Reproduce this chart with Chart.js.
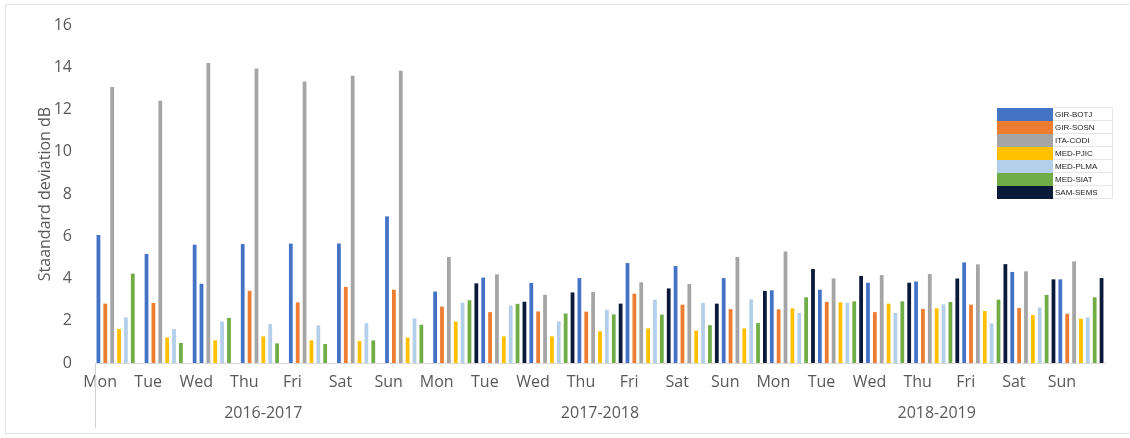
<!DOCTYPE html>
<html>
<head>
    <title>Standard deviation by weekday</title>
    <script src="https://cdn.jsdelivr.net/npm/chart.js"></script>
    <style>
        body { margin: 0; background: #fff; }
        #wrap { position: relative; width: 1130px; height: 438px; }
        #frame { position: absolute; left: 5px; top: 4px; width: 1130px; height: 430px; border: 1px solid #e3e3e3; box-sizing: border-box; }
        #legend { position: absolute; left: 997px; top: 107px; border-collapse: collapse; font: 8px "Liberation Sans", sans-serif; color: #222; }
        #legend td { height: 12px; padding: 0; }
        #legend td.sw { width: 56px; }
        #legend td.tx { width: 57px; padding-left: 2px; border: 1px solid #e6e6e6; border-left: none; }
    </style>
</head>
<body>
    <div id="wrap">
        <div id="frame"></div>
        <canvas id="sdChart" width="1130" height="438"></canvas>
        <table id="legend"></table>
    </div>
    <script>
        const days = ['Mon', 'Tue', 'Wed', 'Thu', 'Fri', 'Sat', 'Sun'];
        const years = ['2016-2017', '2017-2018', '2018-2019'];
        const labels = [...days, ...days, ...days];
        // year label sits under the middle day (Thu) of each block of seven
        const yearLabels = labels.map((d, i) => i % 7 === 3 ? years[Math.floor(i / 7)] : '');

        const girBotj = [6.06, 5.16, 5.6, 5.63, 5.65, 5.66, 6.94, 3.38, 4.04, 3.79, 4.02, 4.73, 4.59, 4.02, 3.44, 3.47, 3.8, 3.86, 4.76, 4.31, 3.96];
        const girSosn = [2.81, 2.84, 3.75, 3.42, 2.87, 3.6, 3.47, 2.67, 2.41, 2.44, 2.43, 3.28, 2.76, 2.55, 2.54, 2.89, 2.41, 2.56, 2.76, 2.6, 2.33];
        const itaCodi = [13.06, 12.41, 14.2, 13.94, 13.33, 13.6, 13.83, 5.02, 4.2, 3.23, 3.36, 3.82, 3.74, 5.02, 5.28, 4.0, 4.16, 4.21, 4.67, 4.34, 4.81];
        const medPjic = [1.61, 1.21, 1.07, 1.26, 1.07, 1.04, 1.2, 1.96, 1.26, 1.26, 1.5, 1.64, 1.53, 1.64, 2.59, 2.87, 2.81, 2.59, 2.46, 2.27, 2.1];
        const medPlma = [2.16, 1.61, 1.96, 1.85, 1.78, 1.88, 2.11, 2.85, 2.72, 1.97, 2.52, 3.0, 2.85, 3.01, 2.37, 2.85, 2.37, 2.78, 1.88, 2.63, 2.16];
        const medSiat = [4.23, 0.95, 2.13, 0.93, 0.9, 1.07, 1.81, 2.97, 2.8, 2.34, 2.3, 2.29, 1.79, 1.89, 3.11, 2.92, 2.92, 2.89, 3.0, 3.22, 3.11];
        const samSems = [null, null, null, null, null, null, null, 3.77, 2.9, 3.34, 2.81, 3.53, 2.81, 3.41, 4.45, 4.12, 3.8, 4.0, 4.68, 3.96, 4.02];

        const series = [
            { label: 'GIR-BOTJ', data: girBotj, color: '#4472c4' },
            { label: 'GIR-SOSN', data: girSosn, color: '#ed7d31' },
            { label: 'ITA-CODI', data: itaCodi, color: '#a5a5a5' },
            { label: 'MED-PJIC', data: medPjic, color: '#ffc000' },
            { label: 'MED-PLMA', data: medPlma, color: '#b4cfea' },
            { label: 'MED-SIAT', data: medSiat, color: '#70ad47' },
            { label: 'SAM-SEMS', data: samSems, color: '#0b1a3a' }
        ];

        // the Wed 2016-2017 GIR-SOSN bar is drawn blue in the original
        function barColor(s) {
            if (s.label === 'GIR-SOSN') {
                return ctx => ctx.dataIndex === 2 ? '#4472c4' : s.color;
            }
            return s.color;
        }

        const legend = document.getElementById('legend');
        series.forEach(s => {
            const tr = document.createElement('tr');
            tr.innerHTML = '<td class="sw" style="background:' + s.color + '"></td><td class="tx">' + s.label + '</td>';
            legend.appendChild(tr);
        });

        const separator = {
            id: 'separator',
            afterDraw(chart) {
                const c = chart.ctx;
                const x = Math.round(chart.chartArea.left) + 0.5;
                c.save();
                c.strokeStyle = '#d0d0d0';
                c.lineWidth = 1;
                c.beginPath();
                c.moveTo(x, chart.chartArea.bottom);
                c.lineTo(x, chart.chartArea.bottom + 65);
                c.stroke();
                c.restore();
            }
        };

        const font = { family: '"Open Sans", sans-serif', size: 16 };

        new Chart(document.getElementById('sdChart'), {
            type: 'bar',
            data: {
                labels: labels,
                datasets: series.map(s => ({
                    label: s.label,
                    data: s.data,
                    backgroundColor: barColor(s),
                    barPercentage: 0.55,
                    categoryPercentage: 1
                }))
            },
            options: {
                responsive: false,
                animation: false,
                layout: { padding: { top: 25, right: 25, left: 36, bottom: 0 } },
                plugins: { legend: { display: false }, tooltip: { enabled: false } },
                scales: {
                    x: {
                        grid: { display: false, drawTicks: false },
                        border: { color: '#d9d9d9' },
                        ticks: { color: '#595959', font: font, padding: 10, labelOffset: -19, maxRotation: 0, autoSkip: false },
                        afterFit: s => { s.height = 30; }
                    },
                    x2: {
                        type: 'category',
                        position: 'bottom',
                        labels: yearLabels,
                        offset: true,
                        grid: { display: false, drawTicks: false },
                        border: { display: false },
                        ticks: { color: '#595959', font: font, padding: 11, maxRotation: 0, autoSkip: false },
                        afterFit: s => { s.height = 45; }
                    },
                    y: {
                        min: 0,
                        max: 16,
                        grid: { display: false },
                        border: { display: false },
                        ticks: { stepSize: 2, color: '#595959', font: font, padding: 15 },
                        title: { display: true, text: 'Staandard deviation dB', color: '#595959', font: { family: '"Open Sans", sans-serif', size: 16 }, padding: 0 },
                        afterFit: s => { s.width = 59; }
                    }
                }
            },
            plugins: [separator]
        });
    </script>
</body>
</html>
